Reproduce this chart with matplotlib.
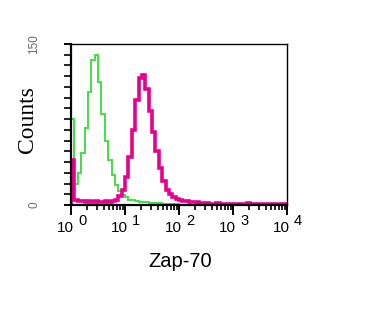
import numpy as np
import matplotlib
matplotlib.use("Agg")
import matplotlib.pyplot as plt
import matplotlib.transforms as mtransforms
from matplotlib.ticker import FixedLocator, FixedFormatter, LogLocator, NullFormatter

plt.rcParams['font.family'] = ['Liberation Sans', 'DejaVu Sans']

# histogram counts, 64 channels spread over 4 log decades (10^0 .. 10^4)
n_channels = 64
isotype_counts = [80, 20, 30, 48, 72, 105, 135, 140, 115, 85, 60, 42, 28, 19, 13, 9,
                  7, 5, 5, 4, 3, 3, 3, 2, 2, 2, 2, 1, 1, 1, 1, 1,
                  0, 0, 0, 0, 0, 0, 0, 0, 0, 0, 1, 0, 0, 0, 0, 0,
                  0, 0, 0, 0, 0, 0, 0, 0, 0, 0, 0, 0, 0, 0, 0, 0]
zap70_counts = [42, 5, 4, 4, 3, 4, 3, 4, 3, 3, 4, 3, 4, 5, 8, 14,
                26, 45, 70, 98, 118, 121, 108, 88, 68, 50, 34, 22, 14, 10, 7, 6,
                5, 4, 4, 3, 3, 3, 2, 2, 2, 1, 1, 2, 1, 1, 1, 1,
                1, 1, 1, 1, 2, 1, 1, 1, 1, 1, 1, 1, 1, 1, 1, 1]
decades = [0, 1, 2, 3, 4]
y_tick_labels = ['0', '150']

edges = np.logspace(0, 4, n_channels + 1)

fig = plt.figure(figsize=(3.68, 3.28), dpi=100)
ax = fig.add_axes([0.193, 0.375, 0.587, 0.491])

ax.stairs(isotype_counts, edges, baseline=0, color='#44dd44', linewidth=1.4)
ax.stairs(zap70_counts, edges, baseline=0, color='#e6008c', linewidth=2.6)

ax.set_xscale('log')
ax.set_xlim(1, 1e4)
ax.set_ylim(0, 150)

# x axis: decade ticks plus minor ticks, labels drawn by hand below
ax.set_xticks([10.0 ** d for d in decades])
ax.xaxis.set_minor_locator(LogLocator(base=10, subs=np.arange(2, 10), numticks=20))
ax.xaxis.set_minor_formatter(NullFormatter())
ax.set_xticklabels([])
ax.tick_params(axis='x', which='major', direction='out', length=7, width=1.4)
ax.tick_params(axis='x', which='minor', direction='out', length=3.5, width=1.2)

# "10" with a full-size raised exponent, like the cytometer export
trans = mtransforms.blended_transform_factory(ax.transData, ax.transAxes)
for d in decades:
    base = mtransforms.offset_copy(trans, fig=fig, x=3, y=-27, units='dots')
    sup = mtransforms.offset_copy(trans, fig=fig, x=7, y=-20, units='dots')
    ax.text(10.0 ** d, 0, '10', transform=base, ha='right', va='baseline', fontsize=11)
    ax.text(10.0 ** d, 0, str(d), transform=sup, ha='left', va='baseline', fontsize=10.5)

# y axis: only 0 and 150 labelled, small ticks every 10
ax.yaxis.set_major_locator(FixedLocator([0, 150]))
ax.yaxis.set_major_formatter(FixedFormatter(y_tick_labels))
ax.yaxis.set_minor_locator(FixedLocator(np.arange(10, 150, 10)))
ax.tick_params(axis='y', which='major', direction='out', length=5, width=1.4, pad=17,
               labelsize=8.5, labelcolor='#6a6a6a')
ax.tick_params(axis='y', which='minor', direction='out', length=5, width=1.2)
for lbl in ax.get_yticklabels():
    lbl.set_rotation(90)
    lbl.set_va('center')

for side in ['left', 'bottom']:
    ax.spines[side].set_linewidth(1.6)
for side in ['top', 'right']:
    ax.spines[side].set_linewidth(1.0)

fig.text(0.489, 61 / 328, 'Zap-70', fontsize=14.5, ha='center', va='baseline')
fig.text(28 / 368, 1 - 120 / 328, 'Counts', fontsize=17, family=['Liberation Serif'],
         rotation=90, ha='center', va='center')

fig.savefig('out.png', dpi=100, facecolor='white')
